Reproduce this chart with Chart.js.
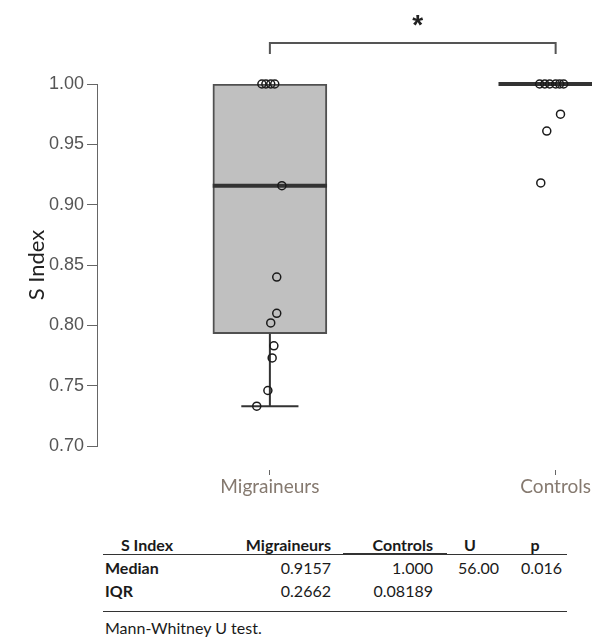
<!DOCTYPE html>
<html>
<head>
<meta charset="utf-8">
<script src="https://cdn.jsdelivr.net/npm/chart.js@4.4.0/dist/chart.umd.min.js"></script>
<style>
  body { margin: 0; background: #fff; overflow: hidden; }
  #wrap { position: relative; width: 592px; height: 638px; }
  #chart { position: absolute; left: 0; top: 0; }
  .cell { position: absolute; font-family: Lato, sans-serif; font-size: 16px; line-height: 20px; color: #1a1a1a; white-space: nowrap; }
  .rule { position: absolute; height: 0; border-top: 1.5px solid #333; }
</style>
</head>
<body>
<div id="wrap">
  <canvas id="chart" width="592" height="510"></canvas>
</div>
<script>
// values
const groups = ['Migraineurs', 'Controls'];
const medians = [0.9157, 1.000];
const q1 = [0.793, 1.000];
const q3 = [1.000, 1.000];
const whiskerLow = [0.733, 1.000];
const whiskerHigh = [1.000, 1.000];
const migraineurs = [1.000, 1.000, 1.000, 1.000, 0.9157, 0.840, 0.810, 0.802, 0.783, 0.773, 0.746, 0.733];
const controls = [1.000, 1.000, 1.000, 1.000, 1.000, 1.000, 0.975, 0.961, 0.918];
// horizontal jitter of the dots, in category units
const migJitter = [-0.028, -0.014, 0.003, 0.017, 0.042, 0.024, 0.024, 0.003, 0.014, 0.008, -0.007, -0.046];
const ctlJitter = [-0.056, -0.038, -0.021, 0.000, 0.014, 0.028, 0.017, -0.031, -0.052];
const yTicks = [0.70, 0.75, 0.80, 0.85, 0.90, 0.95, 1.00];
const sigLabel = '*';

const tableHead = ['S Index', 'Migraineurs', 'Controls', 'U', 'p'];
const medianRow = ['Median', '0.9157', '1.000', '56.00', '0.016'];
const iqrRow = ['IQR', '0.2662', '0.08189', '', ''];
const footnote = 'Mann-Whitney U test.';

const BOX = 0.2;   // half box width
const CAP = 0.1;   // half whisker cap width

function seg(points, width, order) {
  return {
    type: 'line', data: points, borderColor: '#333', borderWidth: width,
    pointRadius: 0, fill: false, clip: false, order: order
  };
}

const datasets = [{
  type: 'bar',
  data: groups.map((g, i) => ({ x: i + 1, y: [q1[i], q3[i]] })),
  backgroundColor: '#c0c0c0', borderColor: '#505050', borderWidth: 2,
  borderSkipped: false, barThickness: 114, order: 5
}];

groups.forEach((g, i) => {
  const c = i + 1;
  datasets.push(seg([{ x: c, y: q1[i] }, { x: c, y: whiskerLow[i] }], 2, 4));
  datasets.push(seg([{ x: c - CAP, y: whiskerLow[i] }, { x: c + CAP, y: whiskerLow[i] }], 2, 4));
  datasets.push(seg([{ x: c, y: q3[i] }, { x: c, y: whiskerHigh[i] }], 2, 4));
  datasets.push(seg([{ x: c - BOX, y: medians[i] }, { x: c + BOX, y: medians[i] }], 4, 3));
});

function dots(values, jitter, c) {
  return {
    type: 'scatter',
    data: values.map((v, j) => ({ x: c + jitter[j], y: v })),
    pointRadius: 4, borderWidth: 1.5, borderColor: '#1a1a1a',
    backgroundColor: 'rgba(0,0,0,0)', clip: false, order: 1
  };
}
datasets.push(dots(migraineurs, migJitter, 1));
datasets.push(dots(controls, ctlJitter, 2));

const bracket = {
  id: 'bracket',
  afterDraw(chart) {
    const x = chart.scales.x;
    const ctx = chart.ctx;
    const a = x.getPixelForValue(1), b = x.getPixelForValue(2);
    ctx.save();
    ctx.strokeStyle = '#555';
    ctx.lineWidth = 2;
    ctx.beginPath();
    ctx.moveTo(a, 54); ctx.lineTo(a, 43); ctx.lineTo(b, 43); ctx.lineTo(b, 54);
    ctx.stroke();
    ctx.fillStyle = '#222';
    ctx.font = 'bold 28px "Liberation Sans"';
    ctx.textAlign = 'center';
    ctx.fillText(sigLabel, (a + b) / 2 + 5, 34);
    ctx.restore();
  }
};

new Chart(document.getElementById('chart'), {
  type: 'bar',
  data: { datasets: datasets },
  plugins: [bracket],
  options: {
    responsive: false,
    animation: false,
    devicePixelRatio: 1,
    layout: { padding: { top: 84, left: 0, right: 0, bottom: 0 } },
    plugins: { legend: { display: false }, tooltip: { enabled: false } },
    scales: {
      x: {
        type: 'linear', min: 0.395, max: 2.108, offset: false,
        afterBuildTicks: s => { s.ticks = groups.map((g, i) => ({ value: i + 1 })); },
        afterFit: s => { s.height = 64; },
        border: { display: false },
        grid: { offset: false, drawOnChartArea: false, tickLength: 29, tickColor: '#666', tickWidth: 1, tickBorderDash: [0, 24, 5, 200] },
        ticks: {
          callback: v => groups[v - 1], color: '#85796f',
          font: { family: 'Lato', size: 19 }, padding: 0, maxRotation: 0, autoSkip: false
        }
      },
      y: {
        min: 0.70, max: 1.00,
        afterBuildTicks: s => { s.ticks = yTicks.map(v => ({ value: v })); },
        afterFit: s => { s.width = 97; },
        border: { color: '#666', width: 1 },
        grid: { drawOnChartArea: false, tickLength: 10, tickColor: '#666' },
        ticks: {
          callback: v => v.toFixed(2), color: '#555',
          font: { family: 'Liberation Sans', size: 18 }, padding: 3
        },
        title: {
          display: true, text: 'S Index', color: '#222',
          font: { family: 'Lato', size: 22 }, padding: { top: 24, bottom: 0 }
        }
      }
    }
  }
});

// statistics table under the plot
const wrap = document.getElementById('wrap');
function cell(text, x, y, align, bold) {
  const d = document.createElement('div');
  d.className = 'cell';
  d.textContent = text;
  d.style.top = (y - 10) + 'px';
  if (bold) d.style.fontWeight = 'bold';
  if (align === 'right') d.style.right = (592 - x) + 'px';
  else if (align === 'center') { d.style.left = x + 'px'; d.style.transform = 'translateX(-50%)'; }
  else d.style.left = x + 'px';
  wrap.appendChild(d);
}
function rule(x1, x2, y, w) {
  const d = document.createElement('div');
  d.className = 'rule';
  d.style.left = x1 + 'px';
  d.style.width = (x2 - x1) + 'px';
  d.style.top = y + 'px';
  if (w) d.style.borderTopWidth = w + 'px';
  wrap.appendChild(d);
}
const headX = [147, 331, 433, 470, 535];
const headAlign = ['center', 'right', 'right', 'center', 'center'];
const bodyX = [105, 331, 433, 499, 562];
const bodyAlign = ['left', 'right', 'right', 'right', 'right'];

tableHead.forEach((t, k) => cell(t, headX[k], 545, headAlign[k], true));
[medianRow, iqrRow].forEach((row, r) => {
  row.forEach((t, k) => cell(t, bodyX[k], 568 + r * 23, bodyAlign[k], k === 0));
});
cell(footnote, 105, 628, 'left', false);
rule(103, 567, 554, 1.5);
rule(343, 447, 552.5, 2);
rule(103, 567, 611, 1.5);
</script>
</body>
</html>
